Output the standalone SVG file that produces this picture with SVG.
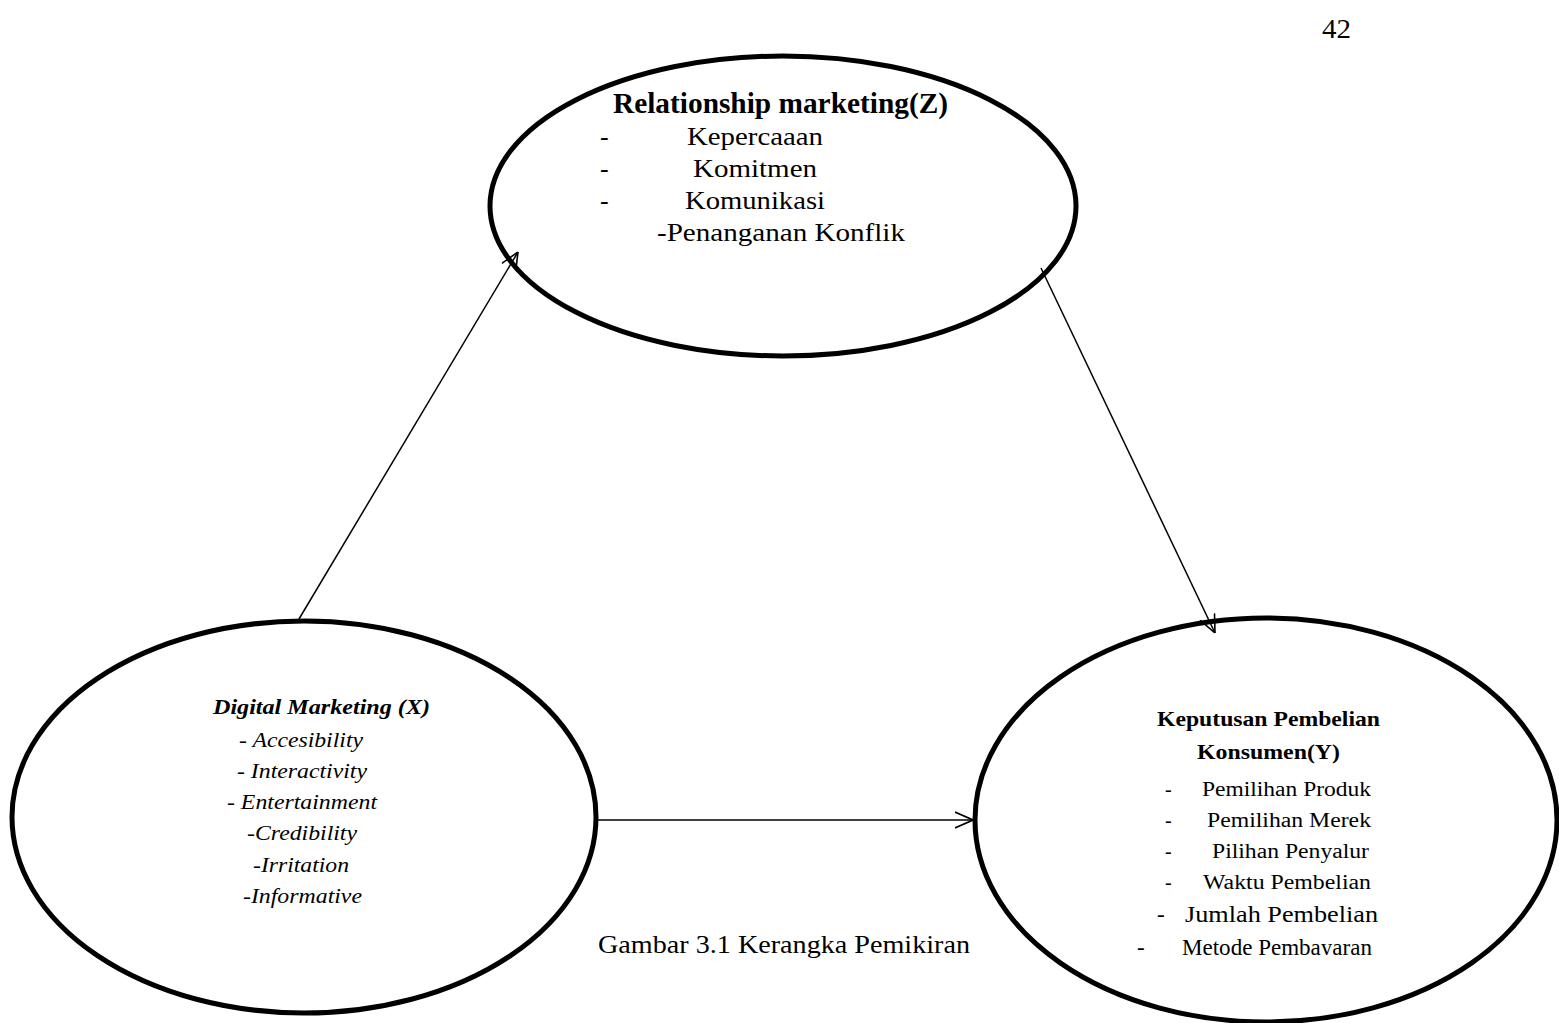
<svg xmlns="http://www.w3.org/2000/svg" width="1559" height="1023" viewBox="0 0 1559 1023">
<style>
.ell{fill:none;stroke:#000;stroke-width:5}
.con{stroke:#000;stroke-width:1.5;fill:none}
.t{font-family:"Liberation Serif","Times New Roman",Times,"Nimbus Roman",serif;fill:#000}
.b{font-weight:bold}
.i{font-style:italic}
</style>
<defs>
<marker id="arr" viewBox="0 0 18 18" refX="18" refY="9" markerWidth="18" markerHeight="18" markerUnits="userSpaceOnUse" orient="auto">
<path d="M0,1 L18,9 L0,17" fill="none" stroke="#000" stroke-width="1.6"/>
</marker>
<clipPath id="clipM"><rect x="1100" y="900" width="400" height="55"/></clipPath>
</defs>
<rect width="1559" height="1023" fill="#fff"/>
<text class="t" x="1322" y="38" font-size="27" textLength="29" lengthAdjust="spacingAndGlyphs">42</text>
<g id="connectors">
<line class="con" x1="299" y1="619" x2="518" y2="252" marker-end="url(#arr)"/>
<line class="con" x1="1041" y1="268" x2="1215" y2="633" marker-end="url(#arr)"/>
<line class="con" x1="598" y1="820" x2="973" y2="820" marker-end="url(#arr)"/>
</g>
<g id="nodeZ">
<ellipse class="ell" cx="783" cy="206" rx="293" ry="150"/>
<text class="t b" x="613" y="113" font-size="29" textLength="335" lengthAdjust="spacingAndGlyphs">Relationship marketing(Z)</text>
<text class="t" x="600" y="145" font-size="26">-</text>
<text class="t" x="687" y="145" font-size="26" textLength="136" lengthAdjust="spacingAndGlyphs">Kepercaaan</text>
<text class="t" x="600" y="177" font-size="26">-</text>
<text class="t" x="693" y="177" font-size="26" textLength="124" lengthAdjust="spacingAndGlyphs">Komitmen</text>
<text class="t" x="600" y="209" font-size="26">-</text>
<text class="t" x="685" y="209" font-size="26" textLength="140" lengthAdjust="spacingAndGlyphs">Komunikasi</text>
<text class="t" x="657" y="241" font-size="26" textLength="248" lengthAdjust="spacingAndGlyphs">-Penanganan Konflik</text>
</g>
<g id="nodeX">
<ellipse class="ell" cx="304" cy="817" rx="292" ry="196"/>
<text class="t b i" x="213" y="714" font-size="22" textLength="217" lengthAdjust="spacingAndGlyphs">Digital Marketing (X)</text>
<text class="t i" x="239" y="747" font-size="22" textLength="124" lengthAdjust="spacingAndGlyphs">- Accesibility</text>
<text class="t i" x="237" y="778" font-size="22" textLength="130" lengthAdjust="spacingAndGlyphs">- Interactivity</text>
<text class="t i" x="227" y="809" font-size="22" textLength="150" lengthAdjust="spacingAndGlyphs">- Entertainment</text>
<text class="t i" x="247" y="840" font-size="22" textLength="110" lengthAdjust="spacingAndGlyphs">-Credibility</text>
<text class="t i" x="253" y="872" font-size="22" textLength="96" lengthAdjust="spacingAndGlyphs">-Irritation</text>
<text class="t i" x="243" y="903" font-size="22" textLength="119" lengthAdjust="spacingAndGlyphs">-Informative</text>
</g>
<g id="nodeY">
<ellipse class="ell" cx="1266" cy="820" rx="291" ry="202"/>
<text class="t b" x="1157" y="726" font-size="22" textLength="223" lengthAdjust="spacingAndGlyphs">Keputusan Pembelian</text>
<text class="t b" x="1197" y="759" font-size="22" textLength="143" lengthAdjust="spacingAndGlyphs">Konsumen(Y)</text>
<text class="t" x="1165" y="796" font-size="20">-</text>
<text class="t" x="1202" y="796" font-size="20" textLength="169" lengthAdjust="spacingAndGlyphs">Pemilihan Produk</text>
<text class="t" x="1165" y="827" font-size="20">-</text>
<text class="t" x="1207" y="827" font-size="20" textLength="164" lengthAdjust="spacingAndGlyphs">Pemilihan Merek</text>
<text class="t" x="1165" y="858" font-size="20">-</text>
<text class="t" x="1212" y="858" font-size="20" textLength="157" lengthAdjust="spacingAndGlyphs">Pilihan Penyalur</text>
<text class="t" x="1165" y="889" font-size="20">-</text>
<text class="t" x="1203" y="889" font-size="20" textLength="168" lengthAdjust="spacingAndGlyphs">Waktu Pembelian</text>
<text class="t" x="1157" y="922" font-size="23">-</text>
<text class="t" x="1185" y="922" font-size="23" textLength="193" lengthAdjust="spacingAndGlyphs">Jumlah Pembelian</text>
<g clip-path="url(#clipM)">
<text class="t" x="1137" y="955" font-size="23">-</text>
<text class="t" x="1182" y="955" font-size="23" textLength="190" lengthAdjust="spacingAndGlyphs">Metode Pembayaran</text>
</g>
</g>
<text class="t" x="598" y="953" font-size="26" textLength="372" lengthAdjust="spacingAndGlyphs">Gambar 3.1 Kerangka Pemikiran</text>
</svg>
